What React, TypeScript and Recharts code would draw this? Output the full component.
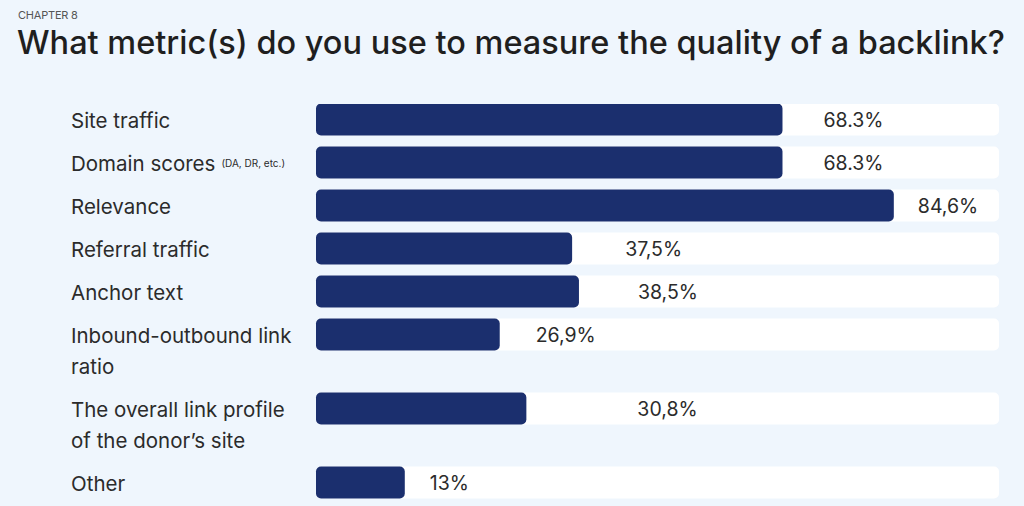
import React from "react";
import { BarChart, Bar, XAxis, YAxis, LabelList } from "recharts";

const categories = [
  "Site traffic",
  "Domain scores",
  "Relevance",
  "Referral traffic",
  "Anchor text",
  "Inbound-outbound link\nratio",
  "The overall link profile\nof the donor\u2019s site",
  "Other",
];
const categoryNotes = ["", "(DA, DR, etc.)", "", "", "", "", "", ""];
const values = [68.3, 68.3, 84.6, 37.5, 38.5, 26.9, 30.8, 13];
const valueLabels = ["68.3%", "68.3%", "84,6%", "37,5%", "38,5%", "26,9%", "30,8%", "13%"];

// style: gap between bar end and its value text (as placed in the reference)
const LABEL_GAP = [41, 41, 24, 53, 59, 36, 111, 25];
const LINE_H = 31;
const ROW_PAD = 12;
const BAR_H = 32;

const FONT = "Inter, 'Noto Sans', sans-serif";
const NAVY = "#1b2f6e";
const TEXT = "#2b2b2b";
const BG = "#eff6fd";

// build rows: vertical position derives from label line counts
let acc = 0;
const data = categories.map((c, i) => {
  const lines = c.split("\n").length;
  const pos = acc + BAR_H / 2;
  acc += ROW_PAD + LINE_H * lines;
  return { name: c, note: categoryNotes[i], value: values[i], label: valueLabels[i], pos, idx: i };
});
const totalH = acc;

const LeftTick = (props: any) => {
  const { y, payload } = props;
  const row = data.find((d) => d.pos === payload.value);
  if (!row) return null;
  const lines = row.name.split("\n");
  return (
    <g>
      {lines.map((ln: string, k: number) => (
        <text
          key={k}
          x={71}
          y={y + k * LINE_H}
          dominantBaseline="central"
          fontFamily={FONT}
          fontSize={20.5}
          fill={TEXT}
        >
          {ln}
          {k === 0 && row.note ? (
            <tspan fontSize={10} dx={6}>{row.note}</tspan>
          ) : null}
        </text>
      ))}
    </g>
  );
};

const ValueLabel = (props: any) => {
  const { x, y, width, height, index } = props;
  return (
    <text
      x={x + width + LABEL_GAP[index]}
      y={y + height / 2}
      dominantBaseline="central"
      fontFamily={FONT}
      fontSize={19.5}
      fill={TEXT}
    >
      {data[index].label}
    </text>
  );
};

export default function App() {
  return (
    <div
      style={{
        position: "fixed",
        left: 0,
        top: 0,
        width: 1024,
        height: 506,
        background: BG,
        overflow: "hidden",
        fontFamily: FONT,
      }}
    >
      <div
        style={{
          position: "absolute",
          left: 18,
          top: 8,
          fontSize: 11,
          color: "#555",
          letterSpacing: -0.2,
        }}
      >
        CHAPTER 8
      </div>
      <div
        style={{
          position: "absolute",
          left: 17,
          top: 23,
          fontSize: 32.5,
          fontWeight: 500,
          color: "#1f1f1f",
          whiteSpace: "nowrap",
        }}
      >
        What metric(s) do you use to measure the quality of a backlink?
      </div>
      <div style={{ position: "absolute", left: 0, top: 104 }}>
        <BarChart
          width={1024}
          height={totalH}
          data={data}
          layout="vertical"
          margin={{ top: 0, right: 25, bottom: 0, left: 0 }}
        >
          <XAxis type="number" domain={[0, 100]} hide />
          <YAxis
            type="number"
            dataKey="pos"
            domain={[0, totalH]}
            width={316}
            ticks={data.map((d) => d.pos)}
            tick={<LeftTick />}
            axisLine={false}
            tickLine={false}
            interval={0}
          />
          <Bar
            dataKey="value"
            fill={NAVY}
            barSize={BAR_H}
            radius={5}
            background={{ fill: "#ffffff", radius: 5 }}
            isAnimationActive={false}
          >
            <LabelList dataKey="label" content={<ValueLabel />} />
          </Bar>
        </BarChart>
      </div>
    </div>
  );
}
